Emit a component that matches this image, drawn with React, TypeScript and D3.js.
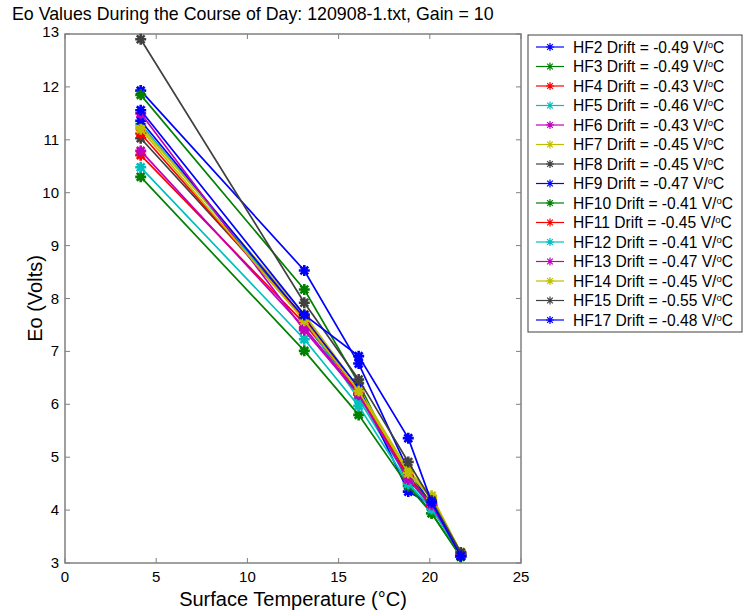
import React from 'react'
import * as d3 from 'd3'

// surface temperature at each reading (°C)
const TEMPS = [4.15, 13.12, 16.1, 18.82, 20.1, 21.7]

const SENSORS = ['HF2', 'HF3', 'HF4', 'HF5', 'HF6', 'HF7', 'HF8', 'HF9', 'HF10', 'HF11', 'HF12', 'HF13', 'HF14', 'HF15', 'HF17']
const DRIFTS = [-0.49, -0.49, -0.43, -0.46, -0.43, -0.45, -0.45, -0.47, -0.41, -0.45, -0.41, -0.47, -0.45, -0.55, -0.48]

// Eo (Volts) per sensor, one value per temperature
const EO_VALUES = [
  [11.93, 8.53, 6.77, 4.75, 4.10, 3.14],
  [11.85, 8.17, 6.40, 4.51, 3.94, 3.12],
  [10.71, 7.53, 6.25, 4.62, 4.05, 3.18],
  [11.30, 7.60, 6.10, 4.58, 4.05, 3.15],
  [10.79, 7.45, 6.20, 4.60, 4.08, 3.17],
  [11.25, 7.70, 6.30, 4.75, 4.27, 3.20],
  [11.03, 7.65, 6.22, 4.65, 4.12, 3.18],
  [11.36, 7.62, 6.32, 4.35, 4.10, 3.13],
  [10.30, 7.01, 5.80, 4.45, 3.94, 3.12],
  [11.12, 7.60, 6.22, 4.62, 4.08, 3.16],
  [10.48, 7.23, 5.97, 4.50, 4.02, 3.17],
  [11.50, 7.40, 6.18, 4.58, 4.10, 3.15],
  [11.20, 7.58, 6.25, 4.70, 4.22, 3.19],
  [12.90, 7.92, 6.47, 4.91, 4.18, 3.20],
  [11.56, 7.69, 6.91, 5.36, 4.15, 3.13],
]

// matlab default line order
const COLORS = ['#0000ff', '#008000', '#ff0000', '#00bfbf', '#bf00bf', '#bfbf00', '#404040']

const X_TICKS = [0, 5, 10, 15, 20, 25]
const Y_TICKS = [3, 4, 5, 6, 7, 8, 9, 10, 11, 12, 13]

const W = 743
const H = 613
const M = { left: 65, right: 521, top: 34, bottom: 563 }
const FONT = 'Arial, "Liberation Sans", sans-serif'
const AXIS_GRAY = '#808080'

function Star({ cx, cy, r, color, sw }: { cx: number; cy: number; r: number; color: string; sw: number }) {
  const d = r * Math.SQRT1_2
  const path = `M${cx - r},${cy}H${cx + r}M${cx},${cy - r}V${cy + r}` +
    `M${cx - d},${cy - d}L${cx + d},${cy + d}M${cx - d},${cy + d}L${cx + d},${cy - d}`
  return <path d={path} stroke={color} strokeWidth={sw} fill="none" />
}

export default function App() {
  const x = d3.scaleLinear().domain([0, 25]).range([M.left, M.right])
  const y = d3.scaleLinear().domain([3, 13]).range([M.bottom, M.top])
  const line = d3.line<number>().x((_, i) => x(TEMPS[i])).y(v => y(v))

  const legX = 528
  const legY = 35
  const rowH = 19.5

  return (
    <svg width={W} height={H} style={{ position: 'absolute', left: 0, top: 0, background: '#fff' }} fontFamily={FONT}>
      <text x={12} y={20} fontSize={17.8}>Eo Values During the Course of Day: 120908-1.txt, Gain = 10</text>

      {/* axes box */}
      <rect x={M.left} y={M.top} width={M.right - M.left} height={M.bottom - M.top} fill="#fff" stroke={AXIS_GRAY} strokeWidth={1.5} />
      {X_TICKS.map(t => (
        <g key={'x' + t}>
          <line x1={x(t)} x2={x(t)} y1={M.bottom} y2={M.bottom - 5} stroke={AXIS_GRAY} />
          <line x1={x(t)} x2={x(t)} y1={M.top} y2={M.top + 5} stroke={AXIS_GRAY} />
          <text x={x(t)} y={M.bottom + 19} fontSize={15} textAnchor="middle">{t}</text>
        </g>
      ))}
      {Y_TICKS.map(t => (
        <g key={'y' + t}>
          <line x1={M.left} x2={M.left + 5} y1={y(t)} y2={y(t)} stroke={AXIS_GRAY} />
          <line x1={M.right} x2={M.right - 5} y1={y(t)} y2={y(t)} stroke={AXIS_GRAY} />
          <text x={M.left - 6} y={y(t) + (t === 13 ? 3 : 5)} fontSize={15} textAnchor="end">{t}</text>
        </g>
      ))}

      {EO_VALUES.map((vals, i) => {
        const c = COLORS[i % COLORS.length]
        return (
          <g key={SENSORS[i]}>
            <path d={line(vals) || ''} stroke={c} strokeWidth={1.7} fill="none" />
            {vals.map((v, j) => <Star key={j} cx={x(TEMPS[j])} cy={y(v)} r={5.5} color={c} sw={2.6} />)}
          </g>
        )
      })}

      <text x={(M.left + M.right) / 2} y={606} fontSize={20} textAnchor="middle">Surface Temperature (°C)</text>
      <text transform={`translate(42,${(M.top + M.bottom) / 2}) rotate(-90)`} fontSize={20} textAnchor="middle">Eo (Volts)</text>

      {/* legend */}
      <rect x={legX} y={legY} width={W - legX - 1} height={297} fill="#fff" stroke="#404040" strokeWidth={1} />
      {SENSORS.map((s, i) => {
        const c = COLORS[i % COLORS.length]
        const cy = legY + 12 + i * rowH
        return (
          <g key={'leg' + s}>
            <line x1={536} x2={564} y1={cy} y2={cy} stroke={c} strokeWidth={1.2} />
            <Star cx={550} cy={cy} r={4} color={c} sw={1.2} />
            <text x={573} y={cy + 5.5} fontSize={15.6}>
              {`${s} Drift = ${DRIFTS[i].toFixed(2)} V/`}
              <tspan fontSize={9.5} dy={-5}>o</tspan>
              <tspan dy={5}>C</tspan>
            </text>
          </g>
        )
      })}
    </svg>
  )
}
